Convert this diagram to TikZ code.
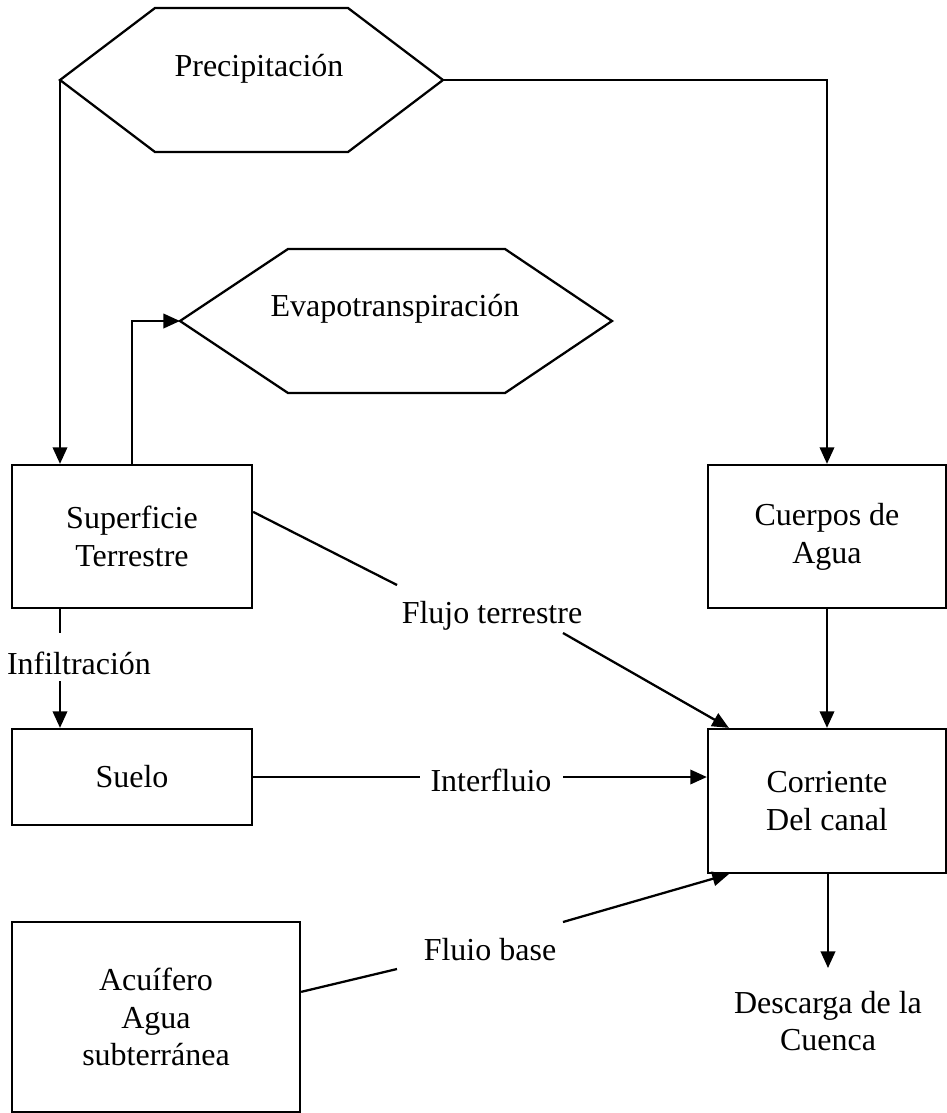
\documentclass[tikz,border=0pt]{standalone}
\usepackage{fontspec}
\setmainfont{Liberation Serif}
\usetikzlibrary{arrows.meta,calc}
\begin{document}
\begin{tikzpicture}[x=0.375pt,y=-0.375pt,
  line width=0.85pt,
  every node/.style={font=\fontsize{12}{14.2}\selectfont},
  box/.style={draw,rectangle,inner sep=0pt,align=center},
  lbl/.style={inner sep=0pt,align=center},
  arr/.style={-{Triangle[width=5.4pt,length=6.2pt]}},
  hexa/.style={draw,line join=miter}]
\useasboundingbox (0,0) rectangle (947,1113);
% Precipitacion hexagon
\coordinate (pw) at (60,80);
\coordinate (pe) at (443,80);
\draw[hexa] (pw) -- (155,8) -- (348,8) -- (pe) -- (348,152) -- (155,152) -- cycle;
\node[lbl] (prec) at (259,69) {Precipitación};
% Evapotranspiracion hexagon
\coordinate (ew) at (180,321);
\coordinate (ee) at (612,321);
\draw[hexa] (ew) -- (288,249) -- (505,249) -- (ee) -- (505,393) -- (288,393) -- cycle;
\node[lbl] (evap) at (395,309) {Evapotranspiración};
% boxes
\node[box,minimum width=240*0.375pt,minimum height=143*0.375pt] (sup) at (132,536.5) {Superficie\\Terrestre};
\node[box,minimum width=238*0.375pt,minimum height=143*0.375pt] (cue) at (827,536.5) {Cuerpos de\\Agua};
\node[box,minimum width=240*0.375pt,minimum height=96*0.375pt] (sue) at (132,777) {Suelo};
\node[box,minimum width=238*0.375pt,minimum height=144*0.375pt] (cor) at (827,801) {Corriente\\Del canal};
\node[box,minimum width=288*0.375pt,minimum height=190*0.375pt] (acu) at (156,1017) {Acuífero\\Agua\\subterránea};
% labels
\node[lbl] (ft) at (492,616) {Flujo terrestre};
\node[lbl] (inf) at (79,663) {Infiltración};
\node[lbl] (itf) at (491,780) {Interfluio};
\node[lbl] (fb) at (490,950) {Fluio base};
\node[lbl] (des) at (828,1021) {Descarga de la\\Cuenca};
% connector helper coordinates
\coordinate (ft1) at (397,585);
\coordinate (ft2) at (563,633);
\coordinate (inf1) at (60,633);
\coordinate (inf2) at (60,681);
\coordinate (itf1) at (420,777);
\coordinate (itf2) at (563,777);
\coordinate (fb1) at (397,969);
\coordinate (fb2) at (563,922);
\coordinate (des1) at (828,968);
% connectors
\draw[arr] (pw) -- (pw |- sup.north);
\draw[arr] (pe) -| (cue.north);
\draw[arr] (sup.north) |- (ew);
\draw ($(sup.north east)+(0,48)$) -- (ft1);
\draw[arr] (ft2) -- ($(cor.north west)+(22,0)$);
\draw (inf1 |- sup.south) -- (inf1);
\draw[arr] (inf2) -- (inf2 |- sue.north);
\draw (sue.east) -- (itf1);
\draw[arr] (itf2) -- (cor.west |- itf2);
\draw ($(acu.north east)+(0,71)$) -- (fb1);
\draw[arr] (fb2) -- ($(cor.south west)+(22,0)$);
\draw[arr] (cue.south) -- (cor.north);
\draw[arr] (cor.south -| des1) -- (des1);
\end{tikzpicture}
\end{document}
